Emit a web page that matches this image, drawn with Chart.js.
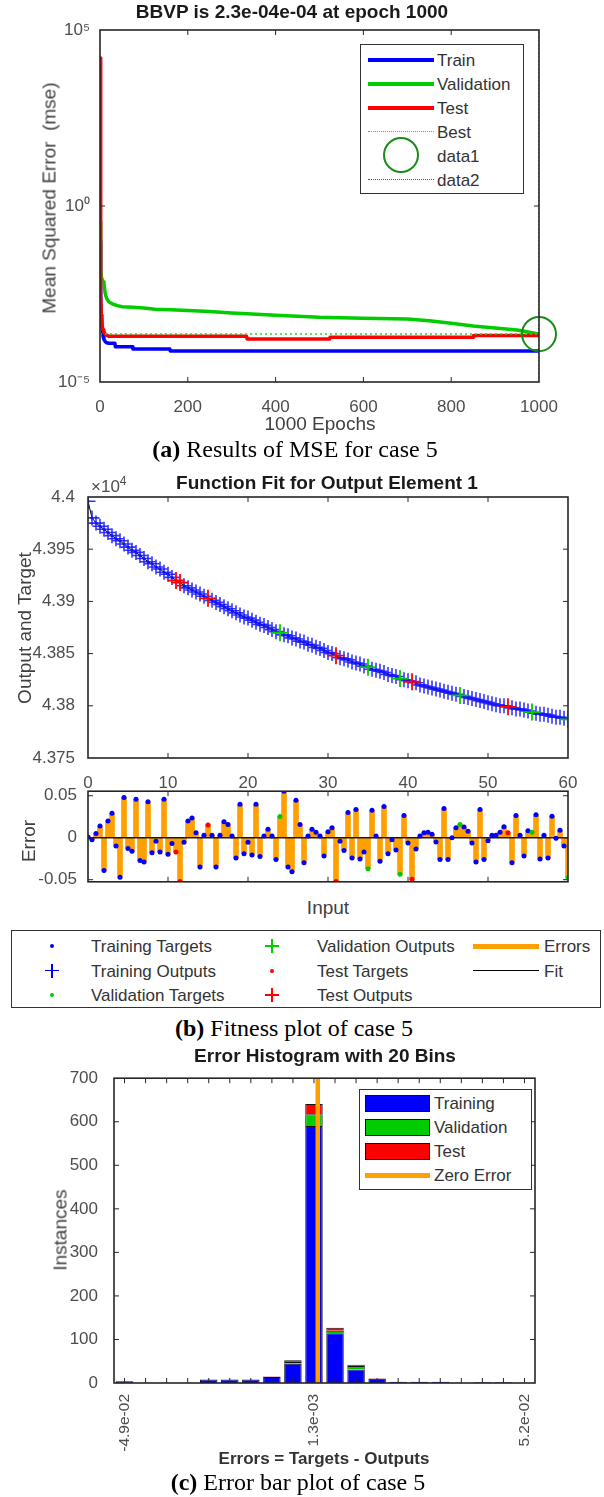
<!DOCTYPE html>
<html><head><meta charset="utf-8">
<script src="https://cdn.jsdelivr.net/npm/chart.js@4.4.1/dist/chart.umd.min.js"></script>
<style>
html,body{margin:0;padding:0;background:#fff;}
#root{position:relative;width:604px;height:1497px;overflow:hidden;font-family:"Liberation Sans",Arial,Helvetica,sans-serif;}
canvas{position:absolute;left:0;}
.t{position:absolute;white-space:pre;line-height:1;}
.c{transform:translate(-50%,-50%);}
.l{transform:translate(0,-50%);}
.r{transform:translate(-50%,-50%) rotate(-90deg);}
.cap{font-family:"Liberation Serif","Times New Roman",serif;font-size:24px;color:#000;}
</style></head><body><div id="root"></div>
<script>
// ================= DATA =================
// (a) MSE per epoch
const trainEpochs = [0,1,2,3,4,5,7,9,12,15,20,34,35,74,75,159,160,1000];
const trainMse = [1e-1,1e-2,2e-3,8e-4,4.5e-4,3.2e-4,2e-4,1.6e-4,1.4e-4,1.3e-4,1.26e-4,1.26e-4,1.0e-4,1.0e-4,8.7e-5,8.7e-5,7.6e-5,7.6e-5];
const valEpochs = [0,1,2,3,5,7,9,12,15,20,25,30,40,50,75,100,125,160,200,250,300,335,400,450,500,525,600,700,750,800,850,900,950,1000];
const valMse = [0.35,0.05,0.016,0.01,8e-3,7e-3,6.3e-3,3.2e-3,2.4e-3,1.9e-3,1.74e-3,1.62e-3,1.48e-3,1.38e-3,1.32e-3,1.26e-3,1.17e-3,1.12e-3,1.07e-3,1.0e-3,9.1e-4,8.7e-4,7.9e-4,7.4e-4,6.9e-4,6.8e-4,6.5e-4,6.2e-4,5.5e-4,4.7e-4,3.9e-4,3.4e-4,3.0e-4,2.3e-4];
const testEpochs = [0,1,2,3,5,7,9,12,15,20,334,335,523,524,850,851,1000];
const testMse = [1.6e4,0.5,3e-3,8e-4,4e-4,3e-4,2.6e-4,2.3e-4,2.15e-4,2.0e-4,2.0e-4,1.66e-4,1.66e-4,1.86e-4,1.86e-4,2.1e-4,2.1e-4];
const bestEpoch = 1000;
const bestPerf = 2.3e-4;
const yTicksA = [1e-5, 1e0, 1e5];
const yTickLabelsA = ['10\u207B\u2075','10\u2070','10\u2075'];

// (b) function fit
const inputs = [0,0.5,1,1.5,2,2.5,3,3.5,4,4.5,5,5.5,6,6.5,7,7.5,8,8.5,9,9.5,
 10,10.5,11,11.5,12,12.5,13,13.5,14,14.5,15,15.5,16,16.5,17,17.5,18,18.5,19,19.5,
 20,20.5,21,21.5,22,22.5,23,23.5,24,24.5,25,25.5,26,26.5,27,27.5,28,28.5,29,29.5,
 30,30.5,31,31.5,32,32.5,33,33.5,34,34.5,35,35.5,36,36.5,37,37.5,38,38.5,39,39.5,
 40,40.5,41,41.5,42,42.5,43,43.5,44,44.5,45,45.5,46,46.5,47,47.5,48,48.5,49,49.5,
 50,50.5,51,51.5,52,52.5,53,53.5,54,54.5,55,55.5,56,56.5,57,57.5,58,58.5,59,59.5,60];
const targets = [43996,43980,43975,43972,43969,43966,43963,43960,43958,43955,
 43952,43949,43947,43944,43941,43938,43936,43933,43931,43928,
 43926,43923,43920,43918,43915,43913,43911,43909,43907,43905,
 43903,43901,43899,43897,43895,43893,43891,43889,43887,43885,
 43884,43882,43880,43878,43877,43875,43873,43871,43870,43868,
 43867,43865,43864,43862,43861,43859,43858,43856,43855,43853,
 43851,43850,43848,43846,43845,43844,43842,43841,43840,43838,
 43837,43835,43834,43833,43832,43830,43829,43828,43826,43825,
 43824,43823,43822,43820,43819,43818,43817,43816,43815,43814,
 43813,43812,43811,43810,43809,43808,43807,43806,43805,43804,
 43803,43802,43801,43800,43800,43799,43798,43797,43797,43796,
 43795,43794,43793,43792,43792,43791,43790,43789,43789,43788,43787];
const errors = [0.001,-0.0025,0.005,0.014,-0.039,0.02,0.029,-0.0098,-0.047,0.048,
 -0.0127,-0.016,0.0457,-0.027,-0.029,0.0428,-0.018,-0.0043,-0.017,0.0457,
 -0.0196,-0.0069,-0.017,-0.052,-0.0054,0.02,0.0236,0.0058,-0.035,0.003,
 0.0152,0.003,-0.035,0.003,0.019,0.0156,0.002,-0.0243,0.0399,-0.019,
 -0.0054,-0.0207,0.0399,-0.0225,0.002,0.01,0.002,-0.026,0.0254,0.0554,
 -0.035,-0.0406,0.0446,0.0156,-0.0297,0.002,0.01,0.0065,0.002,-0.0217,
 0.0072,0.012,-0.052,-0.0043,-0.0152,0.03,-0.0243,0.0337,-0.0254,-0.017,
 -0.037,0.0326,0.002,-0.0279,0.0373,-0.019,-0.0025,-0.0145,-0.0435,0.0264,
 -0.0062,-0.0496,-0.0134,0.002,0.0058,0.0065,0.004,-0.005,-0.026,0.0348,
 -0.026,0.0,0.012,0.0156,0.0127,0.0076,-0.0062,-0.029,0.0337,-0.026,
 -0.0036,0.003,0.003,0.0065,0.013,0.0058,-0.0297,0.0264,0.003,-0.0217,
 0.0083,0.0065,0.0275,-0.0254,0.003,-0.0243,0.0257,-0.0007,0.009,-0.0098,-0.0478];
const valIdx = [48,70,78,93,111,120];
const testIdx = [22,23,30,62,81,105];
const yTicksErr = [-0.05, 0, 0.05];
const yTickLabelsErr = ['-0.05','0','0.05'];

// (c) error histogram (20 bins)
const histBins = [0,1,2,3,4,5,6,7,8,9,10,11,12,13,14,15,16,17,18,19];
const histTrain = [4,0,0,0,8,8,8,14,44,590,114,31,10,3,3,3,0,2,2,0];
const histVal   = [0,0,0,0,0,0,0,0,4,27,6,8,0,0,0,0,0,0,0,0];
const histTest  = [0,0,0,0,0,0,0,1,4,24,7,3,1,0,0,0,0,0,0,0];
const binTickIdx = [0,9,19];
const binTickLabels = ['-4.9e-02','1.3e-03','5.2e-02'];
const zeroErrorBin = 9.18;

// ================= SETUP =================
const BLUE='#0000ff', GREEN='#00cc00', RED='#ff0000', ORANGE='#ffa000', DKGREEN='#1a8c1a';
Chart.defaults.font.family='"Liberation Sans", Arial, Helvetica, sans-serif';
Chart.defaults.font.size=17;
Chart.defaults.color='#4d4d4d';
Chart.defaults.animation=false;
Chart.defaults.responsive=false;
Chart.defaults.plugins.legend.display=false;
Chart.defaults.plugins.tooltip.enabled=false;

const root=document.getElementById('root');
function makeCanvas(top,h){const c=document.createElement('canvas');c.width=604;c.height=h;c.style.top=top+'px';c.style.width='604px';c.style.height=h+'px';root.appendChild(c);return c;}
const fixW=w=>s=>{s.width=w;};
const fixH=h=>s=>{s.height=h;};

const boxPlugin={id:'mbox',afterDraw(chart){
  const ctx=chart.ctx,a=chart.chartArea,len=5;
  ctx.save();
  ctx.strokeStyle='#262626';ctx.lineWidth=1;
  ctx.beginPath();
  const xs=chart.scales.x,ys=chart.scales.y;
  xs.ticks.forEach(t=>{const p=xs.getPixelForValue(t.value);if(p<a.left+1||p>a.right-1)return;
    ctx.moveTo(p,a.bottom);ctx.lineTo(p,a.bottom-len);ctx.moveTo(p,a.top);ctx.lineTo(p,a.top+len);});
  ys.ticks.forEach(t=>{const p=ys.getPixelForValue(t.value);if(p<a.top+1||p>a.bottom-1)return;
    ctx.moveTo(a.left,p);ctx.lineTo(a.left+len,p);ctx.moveTo(a.right,p);ctx.lineTo(a.right-len,p);});
  ctx.stroke();
  ctx.lineWidth=1.6;
  ctx.strokeRect(a.left,a.top,a.right-a.left,a.bottom-a.top);
  ctx.restore();
}};
const noGrid={display:false};
const noBorder={display:false};
const lineStyle={borderJoinStyle:'round',borderCapStyle:'butt',tension:0};

// ================= (a) MSE =================
const xy=(xs,ys)=>xs.map((x,i)=>({x:x,y:ys[i]}));
new Chart(makeCanvas(0,420),{
  type:'line',
  data:{datasets:[
    {label:'data2',data:[{x:bestEpoch,y:1e-5},{x:bestEpoch,y:1e5}],borderColor:'#3a5a3a',borderWidth:1,borderDash:[2,2],pointRadius:0,order:0},
    {label:'data1',data:[{x:bestEpoch,y:bestPerf}],showLine:false,pointRadius:17,pointBorderWidth:2,pointBorderColor:DKGREEN,pointBackgroundColor:'rgba(0,0,0,0)',clip:false,order:1},
    {label:'Best',data:[{x:0,y:bestPerf},{x:1000,y:bestPerf}],borderColor:'#33cc33',borderWidth:1.5,borderDash:[2,3],pointRadius:0,order:2},
    Object.assign({label:'Test',data:xy(testEpochs,testMse),borderColor:RED,borderWidth:3.5,pointRadius:0,order:3},lineStyle),
    Object.assign({label:'Validation',data:xy(valEpochs,valMse),borderColor:GREEN,borderWidth:3.5,pointRadius:0,order:4},lineStyle),
    Object.assign({label:'Train',data:xy(trainEpochs,trainMse),borderColor:BLUE,borderWidth:3.5,pointRadius:0,order:5},lineStyle)
  ]},
  options:{devicePixelRatio:1,
    layout:{padding:{left:0,right:65,top:30,bottom:0}},
    scales:{
      x:{type:'linear',min:0,max:1000,ticks:{stepSize:200,padding:7,maxRotation:0,callback:v=>String(v)},grid:noGrid,border:noBorder,afterFit:fixH(38)},
      y:{type:'logarithmic',min:1e-5,max:1e5,afterBuildTicks:s=>{s.ticks=yTicksA.map(v=>({value:v}));},
         ticks:{callback:(v,i)=>yTickLabelsA[i],padding:2},grid:noGrid,border:noBorder,afterFit:fixW(100)}
    }},
  plugins:[boxPlugin]
});

// ================= (b) fit =================
const trainIdx=inputs.map((_,i)=>i).filter(i=>valIdx.indexOf(i)<0&&testIdx.indexOf(i)<0);
const outputs=targets.map((t,i)=>t-errors[i]);
const pts=(idx,arr)=>idx.map(i=>({x:inputs[i],y:arr[i]}));
const cross=(c,r,w,o,d)=>({type:'scatter',data:d,pointStyle:'cross',pointRadius:r,pointBorderWidth:w,pointBorderColor:c,pointBackgroundColor:c,order:o});
const dot=(c,r,o,d)=>({type:'scatter',data:d,pointStyle:'circle',pointRadius:r,pointBorderWidth:0,pointBackgroundColor:c,pointBorderColor:c,order:o});
new Chart(makeCanvas(470,320),{
  type:'scatter',
  data:{datasets:[
    {type:'line',label:'Fit',data:inputs.map((x,i)=>({x:x,y:outputs[i]})),borderColor:'#000',borderWidth:1,pointRadius:0,order:6},
    dot(BLUE,1.5,5,pts(trainIdx,targets)),
    dot(GREEN,1.5,4,pts(valIdx,targets)),
    dot(RED,1.5,3,pts(testIdx,targets)),
    cross('rgba(20,20,255,0.85)',7.5,1.6,2,pts(trainIdx,outputs)),
    cross(GREEN,8.5,1.8,1,pts(valIdx,outputs)),
    cross(RED,8.5,1.8,0,pts(testIdx,outputs))
  ]},
  options:{devicePixelRatio:1,
    layout:{padding:{left:0,right:36,top:27,bottom:0}},
    scales:{
      x:{type:'linear',min:0,max:60,ticks:{stepSize:10,padding:7,maxRotation:0},grid:noGrid,border:noBorder,afterFit:fixH(32)},
      y:{type:'linear',min:43750,max:44000,ticks:{stepSize:50,padding:5,callback:v=>String(+(v/1e4).toFixed(4))},grid:noGrid,border:noBorder,afterFit:fixW(88)}
    }},
  plugins:[boxPlugin]
});

// errors subplot
new Chart(makeCanvas(778,117),{
  type:'bar',
  data:{datasets:[
    dot(BLUE,2.5,2,pts(trainIdx,errors)),
    dot(GREEN,2.5,1,pts(valIdx,errors)),
    dot(RED,2.5,0,pts(testIdx,errors)),
    {type:'line',label:'zero',data:[{x:0,y:0},{x:60,y:0}],borderColor:'#1a1a1a',borderWidth:1.5,pointRadius:0,order:3},
    {type:'bar',label:'Errors',data:inputs.map((x,i)=>({x:x,y:errors[i]})),backgroundColor:ORANGE,barThickness:5,order:4}
  ]},
  options:{devicePixelRatio:1,
    layout:{padding:{left:0,right:36,top:12,bottom:0}},
    scales:{
      x:{type:'linear',min:0,max:60,offset:false,ticks:{stepSize:10,display:false},grid:{display:false,offset:false},border:noBorder,afterFit:fixH(6)},
      y:{type:'linear',min:-0.0525,max:0.0554,afterBuildTicks:s=>{s.ticks=yTicksErr.map(v=>({value:v}));},
         ticks:{callback:(v,i)=>yTickLabelsErr[i],padding:3},grid:noGrid,border:noBorder,afterFit:fixW(88)}
    }},
  plugins:[boxPlugin]
});

// ================= (c) histogram =================
const bars=(arr)=>arr.map((v,i)=>({x:histBins[i],y:v}));
new Chart(makeCanvas(1060,400),{
  type:'bar',
  data:{datasets:[
    {type:'line',label:'Zero Error',data:[{x:zeroErrorBin,y:0},{x:zeroErrorBin,y:700}],borderColor:ORANGE,borderWidth:4.5,pointRadius:0,order:0},
    {label:'Training',data:bars(histTrain),backgroundColor:BLUE,borderColor:'#111',borderWidth:1,barPercentage:0.83,categoryPercentage:1,order:1},
    {label:'Validation',data:bars(histVal),backgroundColor:GREEN,borderColor:'#111',borderWidth:1,barPercentage:0.83,categoryPercentage:1,order:2},
    {label:'Test',data:bars(histTest),backgroundColor:RED,borderColor:'#111',borderWidth:1,barPercentage:0.83,categoryPercentage:1,order:3}
  ]},
  options:{devicePixelRatio:1,
    layout:{padding:{left:0,right:69,top:17,bottom:0}},
    scales:{
      x:{type:'linear',min:-0.5,max:19.5,stacked:true,offset:false,afterBuildTicks:s=>{s.ticks=histBins.map(v=>({value:v}));},
         ticks:{autoSkip:false,minRotation:90,maxRotation:90,padding:3,font:{size:15.5},callback:v=>{const k=binTickIdx.indexOf(v);return k>=0?binTickLabels[k]:'';}},
         grid:{display:false,offset:false},border:noBorder,afterFit:fixH(77)},
      y:{stacked:true,min:0,max:700,ticks:{stepSize:100,padding:8},grid:noGrid,border:noBorder,afterFit:fixW(114)}
    }},
  plugins:[boxPlugin]
});

// ================= TEXT & LEGENDS =================
function txt(s,x,y,cls,css,html){const d=document.createElement('div');d.className='t '+cls;d.style.left=x+'px';d.style.top=y+'px';Object.assign(d.style,css||{});if(html)d.innerHTML=s;else d.textContent=s;root.appendChild(d);return d;}
function div(css){const d=document.createElement('div');d.style.position='absolute';Object.assign(d.style,css);root.appendChild(d);return d;}
function hline(x1,x2,y,w,color,style){if(style==='solid'){div({left:x1+'px',top:(y-w/2)+'px',width:(x2-x1)+'px',height:w+'px',background:color});}else{div({left:x1+'px',top:(y-w/2)+'px',width:(x2-x1)+'px',height:'0',borderTop:w+'px dotted '+color});}}
function plus(x,y,s,w,color){div({left:(x-s/2)+'px',top:(y-w/2)+'px',width:s+'px',height:w+'px',background:color});div({left:(x-w/2)+'px',top:(y-s/2)+'px',width:w+'px',height:s+'px',background:color});}
function dotEl(x,y,r,color){div({left:(x-r)+'px',top:(y-r)+'px',width:(2*r)+'px',height:(2*r)+'px',borderRadius:'50%',background:color});}

const TITLE={fontWeight:'bold',fontSize:'19px',color:'#1a1a1a'};
const AX={fontSize:'19px',color:'#404040'};
const LG={fontSize:'17px',color:'#333'};

// (a)
txt('BBVP is 2.3e-04e-04 at epoch 1000',292,11,'c',TITLE);
txt('Mean Squared Error  (mse)',49,198,'r',AX);
txt('1000 Epochs',320,423,'c',AX);
txt('<b>(a)</b> Results of MSE for case 5',295,449,'c cap',{},true);
div({left:'360px',top:'44px',width:'164px',height:'150px',border:'1.5px solid #333',boxSizing:'border-box',background:'#fff'});
const rowsA=[60,84,108,132,156,180];
hline(368,434,rowsA[0],4,BLUE,'solid');
hline(368,434,rowsA[1],4,GREEN,'solid');
hline(368,434,rowsA[2],4,RED,'solid');
hline(368,434,rowsA[3],1.5,'#33cc33','dotted');
div({left:(401-18)+'px',top:(155-18)+'px',width:'36px',height:'36px',borderRadius:'50%',border:'2px solid '+DKGREEN,boxSizing:'border-box'});
hline(368,434,rowsA[5],1.5,'#555','dotted');
['Train','Validation','Test','Best','data1','data2'].forEach((s,i)=>txt(s,437,rowsA[i],'l',LG));

// (b)
txt('\u00D710<sup style="font-size:12px;vertical-align:7px">4</sup>',91,485,'l',{fontSize:'17px',color:'#4d4d4d'},true);
txt('Function Fit for Output Element 1',327,482,'c',TITLE);
txt('Output and Target',24,628,'r',AX);
txt('Error',28,841,'r',AX);
txt('Input',328,907,'c',AX);
div({left:'11px',top:'930px',width:'590px',height:'78px',border:'1.5px solid #333',boxSizing:'border-box',background:'#fff'});
const rowsB=[946,970.5,995];
dotEl(52,rowsB[0],2,BLUE); plus(52,rowsB[1],14,1.6,BLUE); dotEl(52,rowsB[2],2,GREEN);
plus(272,rowsB[0],14,1.6,GREEN); dotEl(272,rowsB[1],2,RED); plus(272,rowsB[2],14,1.6,RED);
hline(473,539,rowsB[0],5,ORANGE,'solid'); hline(473,539,rowsB[1],1.5,'#000','solid');
txt('Training Targets',91,rowsB[0],'l',LG); txt('Training Outputs',91,rowsB[1],'l',LG); txt('Validation Targets',91,rowsB[2],'l',LG);
txt('Validation Outputs',317,rowsB[0],'l',LG); txt('Test Targets',317,rowsB[1],'l',LG); txt('Test Outputs',317,rowsB[2],'l',LG);
txt('Errors',544,rowsB[0],'l',LG); txt('Fit',544,rowsB[1],'l',LG);
txt('<b>(b)</b> Fitness plot of case 5',294,1028,'c cap',{},true);

// (c)
txt('Error Histogram with 20 Bins',325,1055,'c',TITLE);
txt('Instances',60,1230,'r',AX);
div({left:'359px',top:'1089px',width:'173px',height:'101px',border:'1.5px solid #333',boxSizing:'border-box',background:'#fff'});
const rowsC=[1103,1127,1151,1175];
[BLUE,GREEN,RED].forEach((c,i)=>div({left:'365px',top:(rowsC[i]-8.5)+'px',width:'65px',height:'17px',background:c,border:'1.5px solid #111',boxSizing:'border-box'}));
hline(365,430,rowsC[3],5,ORANGE,'solid');
['Training','Validation','Test','Zero Error'].forEach((s,i)=>txt(s,434,rowsC[i],'l',LG));
txt('Errors = Targets - Outputs',324,1458,'c',{fontWeight:'bold',fontSize:'17px',color:'#333'});
txt('<b>(c)</b> Error bar plot of case 5',298,1482,'c cap',{},true);
</script>
</body></html>
